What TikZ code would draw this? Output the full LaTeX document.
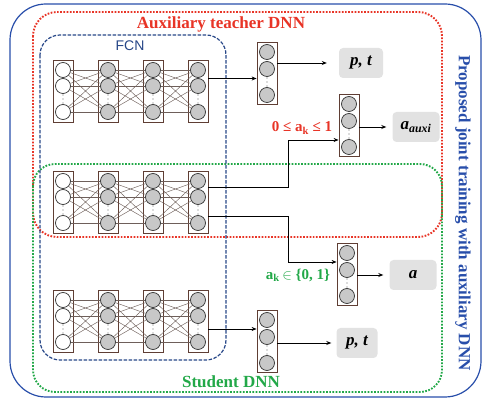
\documentclass[tikz,border=0pt]{standalone}
\usepackage{fontspec}
\setmainfont{Liberation Serif}
\newfontfamily\fcnfont{Liberation Sans}
\usetikzlibrary{arrows.meta}
\usetikzlibrary{positioning}

\definecolor{propblue}{RGB}{40,78,170}
\definecolor{teachred}{RGB}{232,52,38}
\definecolor{studgreen}{RGB}{34,168,72}
\definecolor{fcnblue}{RGB}{38,70,135}
\definecolor{boxbrown}{RGB}{95,62,52}
\definecolor{linkgray}{RGB}{110,95,90}
\definecolor{neurongray}{RGB}{200,200,200}
\definecolor{labelgray}{RGB}{226,226,226}

\tikzset{
  layerbox/.style={draw=boxbrown, line width=0.8pt, minimum width=20pt, minimum height=62pt, inner sep=0pt},
  neuron/.style={circle, draw=black!80, line width=0.7pt, minimum size=15pt, inner sep=0pt},
  link/.style={draw=linkgray, line width=0.45pt},
  flow/.style={-{Stealth[length=5pt,width=4pt]}, line width=0.8pt},
  dotframe/.style={line width=1.9pt, dash pattern=on 1.7pt off 1.5pt},
  outlabel/.style={fill=labelgray, rounded corners=4pt, minimum width=44pt, minimum height=30pt, inner sep=0pt, font=\fontsize{17}{20}\selectfont\bfseries\itshape},
  bigtitle/.style={font=\fontsize{17}{20}\selectfont\bfseries},
  smalllbl/.style={font=\fontsize{15}{18}\selectfont\bfseries},
}

\begin{document}
\begin{tikzpicture}[x=1pt, y=-1pt]
  \useasboundingbox (0,0) rectangle (483,403);

  %frames
  \draw[propblue, line width=1.2pt, rounded corners=36pt] (10,4) rectangle (481,397);
  \draw[teachred, dotframe, rounded corners=24pt] (33,12) rectangle (442,237);
  \draw[studgreen, dotframe, rounded corners=22pt] (33,164) rectangle (442,392);
  \draw[fcnblue, line width=1.2pt, dash pattern=on 3.5pt off 1.5pt, rounded corners=20pt] (40,35) rectangle (226,360);

  %the three fully connected nets
  \foreach \n/\y in {t/60, m/171, s/290} {
    \foreach \l/\x/\f in {1/63/white, 2/108/neurongray, 3/153/neurongray, 4/198/neurongray} {
      \node[layerbox] (\n\l) at (\x,\y+31) {};
      \foreach \i/\dy in {1/10, 2/26, 3/52}
        \node[neuron, fill=\f] (\n\l c\i) at (\x,\y+\dy) {};
      \foreach \dy in {35,39,43}
        \fill[black!60] (\x,\y+\dy) circle (0.55pt);
    }
    \foreach \l [evaluate=\l as \k using int(\l+1)] in {1,2,3}
      \foreach \i in {1,2,3}
        \foreach \j in {1,2,3}
          \draw[link] (\n\l c\i) -- (\n\k c\j);
  }

  %output layers
  \foreach \n/\x/\y in {oT/267/42, oX/349/94, oA/347/243, oS/267/310} {
    \node[layerbox] (\n) at (\x,\y+31) {};
    \foreach \i/\dy in {1/10, 2/27, 3/53}
      \node[neuron, fill=neurongray] (\n c\i) at (\x,\y+\dy) {};
    \foreach \dy in {36,40,44}
      \fill[black!60] (\x,\y+\dy) circle (0.55pt);
  }

  \node[outlabel] (ptT) at (361,63) {p, t};
  \node[outlabel, minimum width=47pt] (auxi) at (416,127) {a\textsubscript{auxi}};
  \node[outlabel, minimum width=47pt] (aS) at (413,275) {a};
  \node[outlabel, minimum width=41pt] (ptS) at (357,343) {p, t};

  %connectors
  \draw[flow] ([yshift=12.5pt]t4.east) -- ([yshift=-5.5pt]oT.west);
  \draw[flow, shorten >=12pt] (oT.east |- ptT.west) -- (ptT.west);
  \draw[flow] ([yshift=15pt]m4.east) -- ++(80,0) |- ([yshift=-15pt]oX.west);
  \draw[flow] ([yshift=-14pt]m4.east) -- ++(80,0) |- ([yshift=12pt]oA.west);
  \draw[flow, shorten >=6pt] (oX.east |- auxi.west) -- (auxi.west);
  \draw[flow, shorten >=6pt] (oA.east |- aS.west) -- (aS.west);
  \draw[flow] ([yshift=-8pt]s4.east) -- ([yshift=12pt]oS.west);
  \draw[flow, shorten >=5pt] (oS.east |- ptS.west) -- (ptS.west);

  %titles
  \node[bigtitle, text=teachred] (teachtitle) at (221,24) {Auxiliary teacher DNN};
  \node[bigtitle, text=studgreen] (studtitle) at (231,382) {Student DNN};
  \node[bigtitle, text=propblue, rotate=-90] (proptitle) at (463,213) {Proposed joint training with auxiliary DNN};
  \node[text=fcnblue, font=\fcnfont\fontsize{14}{16}\selectfont] (fcntitle) at (130,46) {FCN};
  \node[smalllbl, text=teachred] (softlbl) at (302,128) {0 ≤ a\textsubscript{k} ≤ 1};
  \node[smalllbl, text=studgreen] (hardlbl) at (298,275) {a\textsubscript{k}\,$\in$ \{0, 1\}};
\end{tikzpicture}
\end{document}
